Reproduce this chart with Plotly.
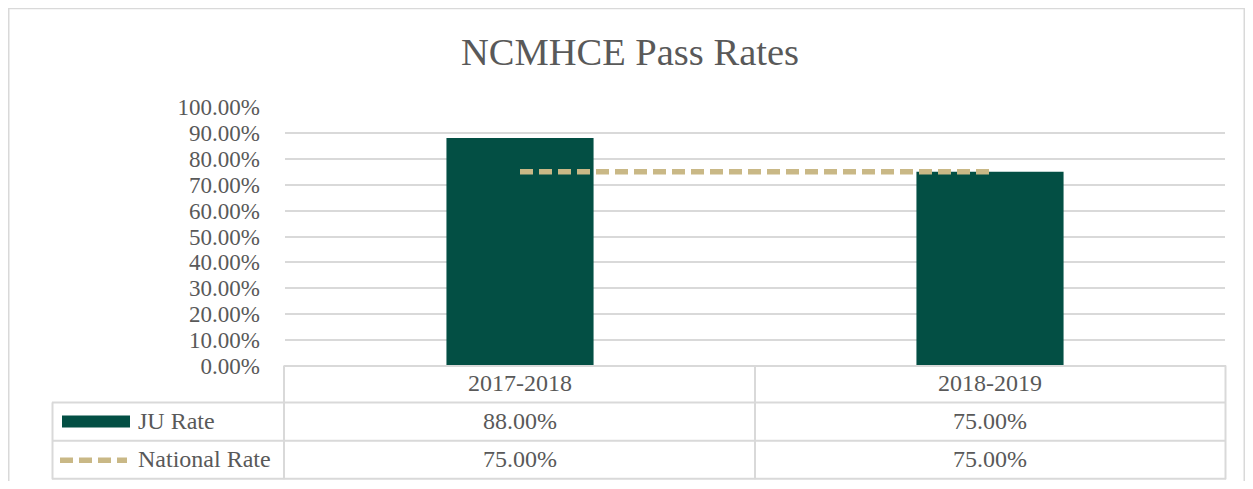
import plotly.graph_objects as go

categories = ["2017-2018", "2018-2019"]
ju_rate = [0.88, 0.75]
national_rate = [0.75, 0.75]
series_names = ["JU Rate", "National Rate"]
y_ticks = [i / 10 for i in range(11)]
y_tick_labels = [f"{v*100:.2f}%" for v in y_ticks]

BAR = "#034F44"
GOLD = "#C9B886"
GRID = "#D9D9D9"
TXT = "#595959"
FONT = "Liberation Serif"

OFF = 8  # page body margin
W, H = 1253 - 2 * OFF, 489 - 2 * OFF
# plot area in screen pixels
L, R, T, B = 285, 1225, 107, 366.5
PW, PH = R - L, B - T


def px(x):
    return (x - L) / PW


def py(y):
    return (B - y) / PH


fig = go.Figure()
fig.add_trace(go.Bar(x=categories, y=ju_rate, name=series_names[0],
                     marker=dict(color=BAR, line=dict(width=0))))
fig.add_trace(go.Scatter(x=categories, y=national_rate, name=series_names[1],
                         mode="lines",
                         line=dict(color=GOLD, width=5.5, dash="13px,6px")))

shapes = []


def hline(y, x0, x1, w=2):
    shapes.append(dict(type="line", xref="paper", yref="paper",
                       x0=px(x0), x1=px(x1), y0=py(y), y1=py(y),
                       line=dict(color=GRID, width=w)))


def vline(x, y0, y1, w=2):
    shapes.append(dict(type="line", xref="paper", yref="paper",
                       x0=px(x), x1=px(x), y0=py(y0), y1=py(y1),
                       line=dict(color=GRID, width=w)))


# outer chart border (bottom lies beyond the view)
hline(8, 8, 1245)
vline(8.5, 7, 495)
vline(1244.5, 7, 495)

# table lines
hline(366.5, 284, 1226)
hline(403, 52, 1226)
hline(441.5, 52, 1226)
hline(479.5, 52, 1226)
vline(284, 366, 480)
vline(755, 366, 480)
vline(1225.5, 366, 480)
vline(52.5, 403, 480)

# legend keys inside the table
shapes.append(dict(type="rect", xref="paper", yref="paper",
                   x0=px(62), x1=px(130), y0=py(428), y1=py(416),
                   fillcolor=BAR, line=dict(width=0)))
shapes.append(dict(type="line", xref="paper", yref="paper",
                   x0=px(60), x1=px(127), y0=py(461), y1=py(461),
                   line=dict(color=GOLD, width=5.5, dash="13px,6px")))

annotations = []
col_centers = [520, 990]
row_y = [384, 422, 460]
TF = dict(family=FONT, size=24, color=TXT)
for c, cx in zip(categories, col_centers):
    annotations.append(dict(x=px(cx), y=py(row_y[0]), xref="paper", yref="paper",
                            text=c, showarrow=False, xanchor="center",
                            yanchor="middle", font=TF))
for ri, (name, vals) in enumerate(zip(series_names, [ju_rate, national_rate])):
    annotations.append(dict(x=px(136), y=py(row_y[ri + 1]), xref="paper", yref="paper",
                            text=name, showarrow=False, xanchor="left",
                            yanchor="middle", font=TF))
    for v, cx in zip(vals, col_centers):
        annotations.append(dict(x=px(cx), y=py(row_y[ri + 1]), xref="paper", yref="paper",
                                text=f"{v*100:.2f}%", showarrow=False,
                                xanchor="center", yanchor="middle", font=TF))

fig.update_layout(
    width=W, height=H,
    margin=dict(l=L - OFF, r=W - (R - OFF), t=T - OFF, b=H - (B - OFF), pad=0),
    paper_bgcolor="white", plot_bgcolor="white",
    showlegend=False,
    bargap=0.687,
    title=dict(text="NCMHCE Pass Rates", x=(630 - OFF) / W, xanchor="center",
               y=1 - (52 - OFF) / H, yanchor="middle",
               font=dict(family=FONT, size=38.5, color=TXT)),
    xaxis=dict(showticklabels=False, showgrid=False, zeroline=False,
               showline=False, ticks=""),
    yaxis=dict(range=[0, 1], tickvals=y_ticks, ticktext=y_tick_labels,
               showgrid=True, gridcolor=GRID, gridwidth=1.5,
               zeroline=False, showline=False, ticks="",
               ticklabelstandoff=24,
               tickfont=dict(family=FONT, size=23, color=TXT)),
    shapes=shapes, annotations=annotations,
    font=dict(family=FONT, color=TXT),
)

fig.write_html("out.html")
